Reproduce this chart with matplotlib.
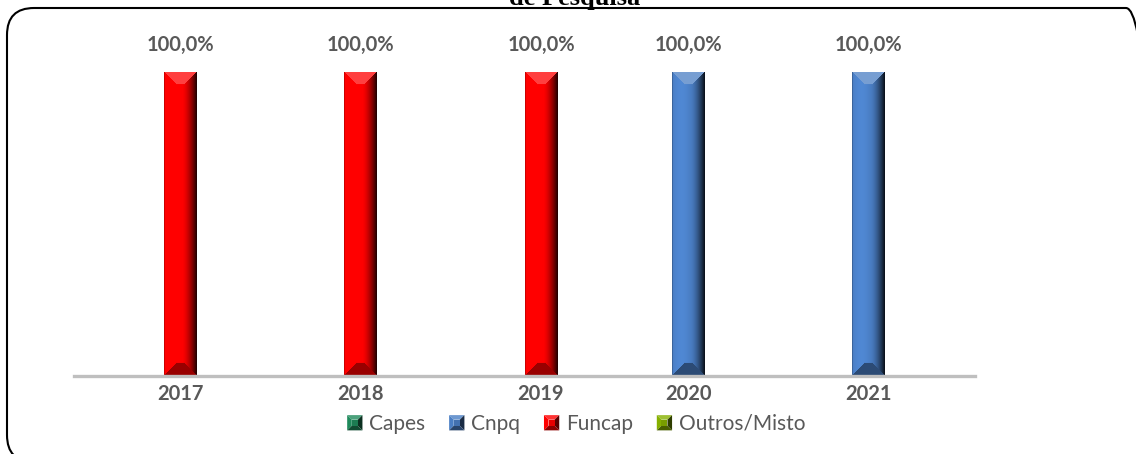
import numpy as np
import matplotlib
matplotlib.use("Agg")
import matplotlib.pyplot as plt
import matplotlib.transforms as mtransforms
from matplotlib.patches import FancyBboxPatch, Polygon, Rectangle
from matplotlib.legend_handler import HandlerBase
from matplotlib.colors import to_rgb

# dados
anos = ["2017", "2018", "2019", "2020", "2021"]
series = ["Capes", "Cnpq", "Funcap", "Outros/Misto"]
capes = [0, 0, 0, 0, 0]
cnpq = [0, 0, 0, 100.0, 100.0]
funcap = [100.0, 100.0, 100.0, 0, 0]
outros = [0, 0, 0, 0, 0]
cores = ["#1f8a5b", "#4a7ec4", "#ff0000", "#86b000"]

valores = [capes, cnpq, funcap, outros]
cinza = "#595959"
fonte = "Lato"

fig = plt.figure(figsize=(11.36, 4.54), dpi=100)
ax = fig.add_axes([74 / 1136, 78 / 454, 901 / 1136, 356 / 454])

n = len(series)
w = 0.183
x = np.arange(len(anos))


def bevel(cor, largura=33, altura=304, b=13):
    # imagem com efeito de relevo (bisel) para a barra
    c = np.array(to_rgb(cor))
    img = np.zeros((altura, largura, 3))
    jj = np.linspace(0, 1, largura)
    # gradiente horizontal: claro a esquerda, escuro a direita
    f = np.where(jj < 0.55, 1.0 + 0.08 * np.sin(np.pi * jj / 0.55),
                 1.0 - 0.85 * ((jj - 0.55) / 0.45) ** 1.6)
    f[0] = 0.8
    for i in range(altura):
        img[i] = c[None, :] * f[:, None]
    for i in range(altura):
        for j in range(largura):
            dl, dr, dt, db = j, largura - 1 - j, i, altura - 1 - i
            m = min(dl, dr, dt, db)
            if m >= b:
                continue
            if m == dt:
                img[i, j] = c + (1 - c) * 0.25
            elif m == db:
                img[i, j] = c * 0.6
    return np.clip(img, 0, 1)


containers = []
for k in range(n):
    pos = x + (k - (n - 1) / 2) * w
    bc = ax.bar(pos, valores[k], w, color=cores[k], zorder=2, linewidth=0)
    containers.append(bc)
    img = bevel(cores[k])
    for p in bc.patches:
        if p.get_height() <= 0:
            continue
        im = ax.imshow(img, extent=(p.get_x(), p.get_x() + p.get_width(), 0, p.get_height()),
                       aspect="auto", zorder=3, interpolation="bilinear")
        im.set_clip_path(p)
    rot = [f"{v:.1f}%".replace(".", ",") if v > 0 else "" for v in valores[k]]
    ax.bar_label(bc, labels=rot, padding=12, fontsize=14.5, fontweight="bold",
                 color=cinza, family=fonte)

# rotulos dos anos sob a barra visivel
ticks = []
for i in range(len(anos)):
    k = int(np.argmax([valores[s][i] for s in range(n)]))
    ticks.append(x[i] + (k - (n - 1) / 2) * w)
ax.set_xticks(ticks)
ax.set_xticklabels(anos, fontsize=14.5, fontweight="bold", color=cinza, family=fonte)
ax.tick_params(axis="x", length=0, pad=6)
ax.set_yticks([])
ax.set_xlim(-0.5, len(anos) - 0.5)
ax.set_ylim(0, 117)
for s in ["top", "right", "left"]:
    ax.spines[s].set_visible(False)
ax.spines["bottom"].set_color("#bfbfbf")
ax.spines["bottom"].set_linewidth(2.4)
ax.spines["bottom"].set_zorder(4)


class BevelHandler(HandlerBase):
    def create_artists(self, legend, orig_handle, xdescent, ydescent, width, height, fontsize, trans):
        c = np.array(to_rgb(orig_handle.get_facecolor()))
        s = height
        x0, y0 = -xdescent + (width - s) / 2, -ydescent
        x1, y1 = x0 + s, y0 + s
        b = s * 0.3
        faces = [
            ([(x0, y1), (x1, y1), (x1 - b, y1 - b), (x0 + b, y1 - b)], c + (1 - c) * 0.2),
            ([(x0, y0), (x0, y1), (x0 + b, y1 - b), (x0 + b, y0 + b)], c),
            ([(x1, y0), (x1, y1), (x1 - b, y1 - b), (x1 - b, y0 + b)], c * 0.35),
            ([(x0, y0), (x1, y0), (x1 - b, y0 + b), (x0 + b, y0 + b)], c * 0.55),
            ([(x0 + b, y0 + b), (x1 - b, y0 + b), (x1 - b, y1 - b), (x0 + b, y1 - b)], c * 0.9),
        ]
        arts = []
        for pts, col in faces:
            pg = Polygon(pts, closed=True, facecolor=np.clip(col, 0, 1), edgecolor="none",
                         transform=trans)
            arts.append(pg)
        return arts


handles = [bc.patches[0] for bc in containers]
leg = fig.legend(handles, series, loc="center", bbox_to_anchor=(576 / 1136, 1 - 424 / 454),
                 ncol=4, frameon=False, handler_map={Rectangle: BevelHandler()},
                 handlelength=0.75, handleheight=0.75, handletextpad=0.3, columnspacing=1.15,
                 prop={"family": fonte, "size": 15})
for t in leg.get_texts():
    t.set_color(cinza)

# titulo cortado no topo
fig.text(575 / 1136, 1 - 5 / 454, "de Pesquisa", ha="center", va="baseline",
         family="Liberation Serif", fontweight="bold", fontsize=19)

# moldura arredondada
moldura = FancyBboxPatch((7, -8), 1146, 454, boxstyle="round,pad=0,rounding_size=27",
                         facecolor="none", edgecolor="black", linewidth=1.5,
                         transform=mtransforms.IdentityTransform(), clip_on=False)
fig.patches.append(moldura)

fig.savefig("out.png", dpi=100)
